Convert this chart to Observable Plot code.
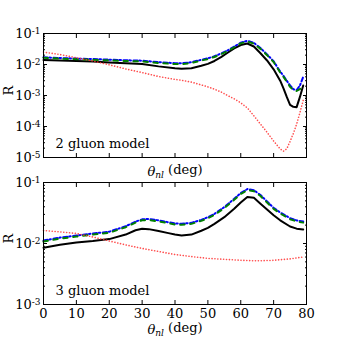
<!DOCTYPE html>
<html><head><meta charset="utf-8">
<script src="https://cdn.jsdelivr.net/npm/d3@7"></script>
<script src="https://cdn.jsdelivr.net/npm/@observablehq/plot@0.6"></script>
<style>
body{margin:0;background:#fff}
#c{position:relative;width:340px;height:340px;overflow:hidden;background:#fff}
#c svg{position:absolute;left:0;display:block}
</style>
</head><body><div id="c"></div>
<script>
// ---- data ----
const thetaTop = [0,5,10,15,20,25,30,35,40,42,45,48,50,52,54,56,58,60,62,64,66,68,70,72,73,74,75,76,77,78,79];
const blackTop = [0.0140,0.0135,0.0130,0.0124,0.0117,0.0110,0.0103,0.0087,0.0076,0.0073,0.0076,0.0091,0.0105,0.0130,0.0172,0.0240,0.0330,0.0425,0.0475,0.0380,0.0230,0.0135,0.0070,0.0030,0.0017,0.0009,0.0005,0.00043,0.00042,0.0009,0.0021];
const greenTop = [0.0165,0.0155,0.0148,0.0142,0.0136,0.0130,0.0126,0.0112,0.0103,0.0103,0.0112,0.0135,0.0150,0.0175,0.0215,0.0270,0.0360,0.0480,0.0550,0.0470,0.0320,0.0200,0.0120,0.0055,0.0040,0.0028,0.0019,0.0015,0.0014,0.0016,0.0022];
const blueTop  = [0.0170,0.0162,0.0155,0.0150,0.0143,0.0137,0.0133,0.0119,0.0110,0.0110,0.0118,0.0142,0.0158,0.0184,0.0226,0.0285,0.0380,0.0505,0.0580,0.0500,0.0340,0.0212,0.0127,0.0059,0.0043,0.0030,0.0021,0.0016,0.0015,0.0021,0.0040];
const redTop   = [0.0250,0.0210,0.0165,0.0130,0.0098,0.0072,0.0055,0.0041,0.0033,0.0031,0.0027,0.0022,0.0019,0.0016,0.0013,0.0010,0.00078,0.00058,0.00040,0.00022,0.00012,0.000065,0.000034,0.000019,0.000016,0.000019,0.000033,0.000060,0.00012,0.00028,0.0007];

const thetaBot = [0,5,10,15,20,25,28,30,32,35,38,40,42,45,48,50,52,55,58,60,62,64,66,68,70,72,75,77,79];
const blackBot = [0.0085,0.0095,0.0104,0.0110,0.0118,0.0140,0.0165,0.0175,0.0172,0.0160,0.0148,0.0140,0.0135,0.0140,0.0162,0.0180,0.0210,0.0270,0.0370,0.0470,0.0580,0.0560,0.0450,0.0360,0.0290,0.0240,0.0190,0.0175,0.0170];
const greenBot = [0.0108,0.0120,0.0130,0.0140,0.0150,0.0185,0.0220,0.0240,0.0243,0.0230,0.0215,0.0205,0.0203,0.0210,0.0235,0.0260,0.0295,0.0380,0.0520,0.0650,0.0750,0.0720,0.0600,0.0470,0.0370,0.0310,0.0250,0.0230,0.0220];
const blueBot  = [0.0112,0.0125,0.0135,0.0146,0.0156,0.0192,0.0228,0.0249,0.0252,0.0239,0.0223,0.0213,0.0211,0.0218,0.0244,0.0270,0.0306,0.0395,0.0540,0.0675,0.0780,0.0748,0.0624,0.0489,0.0385,0.0322,0.0260,0.0239,0.0229];
const thetaRedBot = [0,5,10,15,20,25,30,35,40,45,50,55,60,65,70,75,79];
const redBot   = [0.0163,0.0155,0.0146,0.0128,0.0110,0.0095,0.0083,0.0074,0.0066,0.0061,0.0057,0.0055,0.0053,0.0052,0.0053,0.0056,0.0060];

const xTicks = [0,10,20,30,40,50,60,70,80];
const yTicksTop = [1e-5,1e-4,1e-3,1e-2,1e-1];
const yTicksBot = [1e-3,1e-2,1e-1];
const labelTop = "2 gluon model";
const labelBot = "3 gluon model";
const xLabel = "θnl (deg)";
const yLabel = "R";

// ---- helpers ----
const rows = (xs, ys) => xs.map((x, i) => ({x, y: ys[i]}));
function minorTicks(lo, hi) {
  const out = [];
  for (let e = lo; e < hi; e++) for (let k = 2; k <= 9; k++) out.push(k * Math.pow(10, e));
  return out;
}
const fmtPow = d => "10^" + Math.round(Math.log10(d));
const FONT = "'DejaVu Serif', 'Liberation Serif', serif";

function panel({height, marginTop, marginBottom, yDomain, yTicks, minor, series, label, xLabels}) {
  const marks = [
    Plot.lineY(series.black, {x: "x", y: "y", stroke: "#000", strokeWidth: 2}),
    Plot.lineY(series.blue, {x: "x", y: "y", stroke: "#0000ff", strokeWidth: 2, strokeDasharray: "4,2,1.5,2.5"}),
    Plot.lineY(series.green, {x: "x", y: "y", stroke: "#008000", strokeWidth: 2, strokeDasharray: "4.5,5.5"}),
    Plot.lineY(series.red, {x: "x", y: "y", stroke: "#ff3030", strokeOpacity: 0.85, strokeWidth: 1.6, strokeLinecap: "round", strokeDasharray: "0.1,2.8"}),
    Plot.frame({stroke: "#000", strokeWidth: 1}),
    Plot.axisX({ticks: xTicks, anchor: "bottom", tickSize: -4, tickFormat: () => "", label: null}),
    Plot.axisX({ticks: xTicks, anchor: "top", tickSize: -4, tickFormat: () => "", label: null}),
    Plot.axisY({ticks: yTicks, anchor: "left", tickSize: -4, tickFormat: () => "", label: null}),
    Plot.axisY({ticks: yTicks, anchor: "right", tickSize: -4, tickFormat: () => "", label: null}),
    Plot.axisY({ticks: minor, anchor: "left", tickSize: -2, tickFormat: () => "", label: null}),
    Plot.axisY({ticks: minor, anchor: "right", tickSize: -2, tickFormat: () => "", label: null}),
    Plot.axisY({ticks: yTicks, anchor: "left", tickSize: 0, tickPadding: 3, tickFormat: fmtPow, label: null, fontSize: 13}),
    Plot.text([label], {frameAnchor: "bottom-left", dx: 12, dy: -10, fontSize: 13, textAnchor: "start"}),
    Plot.text([xLabel], {frameAnchor: "bottom", dy: xLabels ? 25 : 14, fontSize: 13, lineAnchor: "middle"}),
    Plot.text([yLabel], {frameAnchor: "left", dx: -35, rotate: -90, fontSize: 13})
  ];
  if (xLabels) marks.push(Plot.axisX({ticks: xTicks, anchor: "bottom", tickSize: 0, tickPadding: 4, label: null, fontSize: 13}));
  return Plot.plot({
    width: 340, height, marginLeft: 43, marginRight: 34, marginTop, marginBottom,
    x: {domain: [0, 80]},
    y: {type: "log", domain: yDomain},
    style: {fontFamily: FONT, fontSize: "13px", background: "transparent", color: "#000", overflow: "visible"},
    marks
  });
}

const topPanel = panel({
  height: 180, marginTop: 33, marginBottom: 23,
  yDomain: [1e-5, 1e-1], yTicks: yTicksTop, minor: minorTicks(-5, -1),
  series: {black: rows(thetaTop, blackTop), green: rows(thetaTop, greenTop), blue: rows(thetaTop, blueTop), red: rows(thetaTop, redTop)},
  label: labelTop, xLabels: false
});
const botPanel = panel({
  height: 180, marginTop: 22, marginBottom: 36,
  yDomain: [1e-3, 1e-1], yTicks: yTicksBot, minor: minorTicks(-3, -1),
  series: {black: rows(thetaBot, blackBot), green: rows(thetaBot, greenBot), blue: rows(thetaBot, blueBot), red: rows(thetaRedBot, redBot)},
  label: labelBot, xLabels: true
});

const container = document.getElementById("c");
topPanel.style.top = "0px";
botPanel.style.top = "160px";
container.appendChild(topPanel);
container.appendChild(botPanel);

// rich text: superscripts on tick labels, italic θ with subscript
d3.selectAll("#c svg text").each(function() {
  const t = d3.select(this);
  const s = this.textContent;
  if (s.startsWith("10^")) {
    const exp = s.slice(3);
    t.text("");
    t.append("tspan").text("10");
    t.append("tspan").attr("dy", "-0.45em").attr("font-size", "9px").text(exp);
  } else if (s === xLabel) {
    t.text("");
    t.append("tspan").attr("font-style", "italic").text("θ");
    t.append("tspan").attr("font-style", "italic").attr("font-size", "9px").attr("dy", "0.3em").text("nl");
    t.append("tspan").attr("dy", "-0.3em").text(" (deg)");
  }
});
</script>
</body></html>
